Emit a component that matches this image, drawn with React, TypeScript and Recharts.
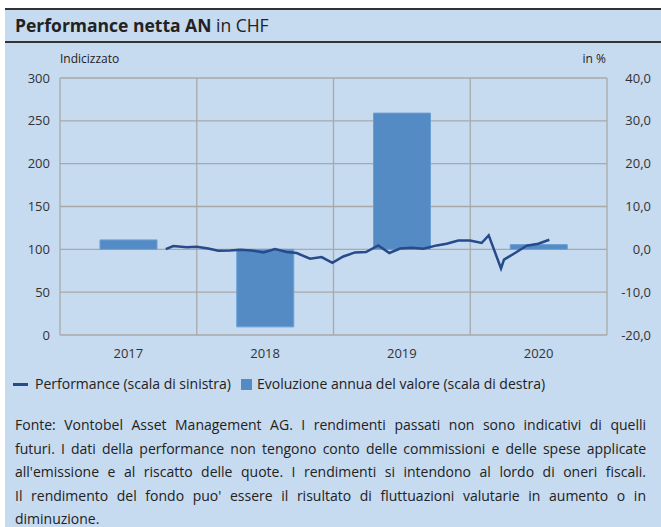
import { ComposedChart, Bar, Line, XAxis, YAxis, CartesianGrid } from 'recharts'

const BG = '#c6daf0'
const BAR = '#548bc5'
const LINE = '#274a8b'
const GRID = '#a9a9a9'
const TEXT_FONT = '"Open Sans", "Noto Sans", sans-serif'
const TICK_FONT = '"Open Sans", "Noto Sans", sans-serif'

// annual change in %, right axis
const years = ['2017', '2018', '2019', '2020']
const annualChange = [2.2, -18.1, 31.8, 1.1]

// performance index, left axis; months counted from Jan 2017
const perfMonths = [
      9.28, 9.94, 11.12, 12.0, 13.01, 13.89, 14.92, 15.8, 16.82, 17.84, 18.87, 19.89,
      20.77, 21.94, 22.96, 23.9, 24.86, 25.89, 26.85, 27.93, 28.9, 29.84, 30.86, 31.88,
      33.06, 33.93, 34.95, 35.98, 37.0, 37.62, 38.7, 38.96, 39.93, 40.95, 41.97, 42.94
]
const perfIndex = [
      100.3, 103.8, 102.3, 103.0, 101.0, 98.4, 98.7, 99.5, 98.7, 96.4, 100.3, 96.8,
      95.7, 89.0, 91.0, 84.3, 91.7, 96.4, 96.8, 104.6, 95.7, 101.0, 101.9, 100.7,
      104.6, 106.5, 110.4, 110.4, 107.4, 116.3, 77.7, 87.9, 95.7, 104.2, 106.5, 111.2
]

const leftTicks = [0, 50, 100, 150, 200, 250, 300]
const rightTicks = [-20, -10, 0, 10, 20, 30, 40]
const yearBounds = [0, 12, 24, 36, 48]

const footerLines = [
      'Fonte: Vontobel Asset Management AG. I rendimenti passati non sono indicativi di quelli',
      'futuri. I dati della performance non tengono conto delle commissioni e delle spese applicate',
      "all'emissione e al riscatto delle quote. I rendimenti si intendono al lordo di oneri fiscali.",
      "Il rendimento del fondo puo' essere il risultato di fluttuazioni valutarie in aumento o in",
      'diminuzione.'
]

const RightTick = ({ x, y, payload }: any) => (
      <text x={x + 36} y={y} dy={4.5} textAnchor="end" fontSize={13} fill="#333" fontFamily={TICK_FONT}>
            {payload.value.toFixed(1).replace('.', ',')}
      </text>
)

export default function App() {
      const data = years.map((year, i) => ({ year, change: annualChange[i] }))
      const perf = perfMonths.map((t, i) => ({ t, v: perfIndex[i] }))

      return (
            <div style={{ position: 'absolute', left: 0, top: 0, width: 661, height: 527, background: '#fff', overflow: 'hidden', fontFamily: TEXT_FONT, color: '#222' }}>
                  <div style={{ position: 'absolute', left: 5, top: 8, right: 0, bottom: 0, background: BG }} />
                  <div style={{ position: 'absolute', left: 5, top: 8, right: 0, height: 31, borderTop: '2px solid #333', borderBottom: '2px solid #333' }} />
                  <div style={{ position: 'absolute', left: 15, top: 13, fontSize: 17.5, lineHeight: '24px', whiteSpace: 'nowrap' }}>
                        <span style={{ fontWeight: 700 }}>Performance netta AN</span> in CHF
                  </div>
                  <div style={{ position: 'absolute', left: 60, top: 51, fontSize: 12, lineHeight: '16px' }}>Indicizzato</div>
                  <div style={{ position: 'absolute', right: 661 - 606, top: 51, fontSize: 12, lineHeight: '16px' }}>in %</div>

                  <div style={{ position: 'absolute', left: 0, top: 0 }}>
                        <ComposedChart width={661} height={370} data={data} margin={{ top: 78, right: 4, bottom: 5, left: 10 }}>
                              <CartesianGrid xAxisId="m" yAxisId="l" stroke={GRID} strokeWidth={1.3} />
                              <XAxis xAxisId="y" dataKey="year" height={30} axisLine={false} tickLine={false} tickMargin={8}
                                    tick={{ fontSize: 13, fill: '#333', fontFamily: TICK_FONT }} />
                              <XAxis xAxisId="m" type="number" dataKey="t" orientation="top" height={0} domain={[0, 48]} ticks={yearBounds} allowDataOverflow hide />
                              <YAxis yAxisId="l" domain={[0, 300]} ticks={leftTicks} width={50} axisLine={false} tickLine={false} tickMargin={4}
                                    tick={{ fontSize: 13, fill: '#333', fontFamily: TICK_FONT }} />
                              <YAxis yAxisId="r" orientation="right" domain={[-20, 40]} ticks={rightTicks} width={50} axisLine={false} tickLine={false}
                                    tick={<RightTick />} />
                              <Bar xAxisId="y" yAxisId="r" dataKey="change" fill={BAR} stroke="#6a9fd4" strokeWidth={1} barSize={57} isAnimationActive={false} />
                              <Line xAxisId="m" yAxisId="l" data={perf} dataKey="v" type="linear" stroke={LINE} strokeWidth={2.5} dot={false} activeDot={false} isAnimationActive={false} />
                        </ComposedChart>
                  </div>

                  <div style={{ position: 'absolute', left: 13, top: 374, fontSize: 14, lineHeight: '20px', display: 'flex', alignItems: 'center', whiteSpace: 'nowrap' }}>
                        <span style={{ display: 'inline-block', width: 15, height: 3, background: LINE, marginRight: 7 }} />
                        <span>Performance (scala di sinistra)</span>
                        <span style={{ display: 'inline-block', width: 11, height: 11, background: BAR, marginLeft: 10, marginRight: 5 }} />
                        <span>Evoluzione annua del valore (scala di destra)</span>
                  </div>

                  <div style={{ position: 'absolute', left: 15, top: 413, width: 631, fontSize: 14, lineHeight: '23.5px' }}>
                        {footerLines.map((line, i) => (
                              <div key={i} style={{ textAlign: 'justify', textAlignLast: i < footerLines.length - 1 ? 'justify' : 'left', whiteSpace: 'nowrap' }}>
                                    {line}
                              </div>
                        ))}
                  </div>
            </div>
      )
}
